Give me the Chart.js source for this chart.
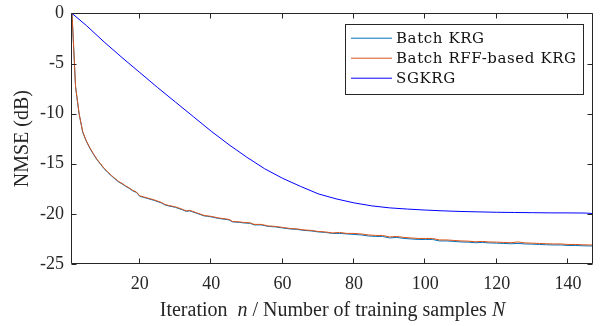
<!DOCTYPE html>
<html>
<head>
<meta charset="utf-8">
<script src="https://cdn.jsdelivr.net/npm/chart.js@4.4.1/dist/chart.umd.min.js"></script>
<style>
  html, body { margin: 0; padding: 0; background: #fff; }
</style>
</head>
<body>
<canvas id="c" width="605" height="326"></canvas>
<script>
// iteration index for the two batch curves
const batchN = [1,2,3,4,5,6,7,8,9,10,11,12,13,14,15,16,17,18,19,20,21,22,
  24,26,27,28,30,32,33,34,36,38,39,40,
  42,43,45,46,48,49,51,52,54,56,58,60,
  62,64,66,68,70,72,74,76,78,80,82,84,86,88,90,92,94,96,98,100,
  102,104,106,108,110,112,114,116,118,120,122,124,126,128,130,132,134,136,138,140,142,144,146,147];

const batchKRG = [0,-7.35,-10.05,-11.85,-12.75,-13.45,-14.05,-14.6,-15.05,-15.5,-15.85,-16.2,-16.5,-16.8,-17.0,-17.25,-17.45,-17.7,-17.85,-18.25,-18.35,-18.45,
  -18.65,-18.9,-19.1,-19.2,-19.35,-19.6,-19.75,-19.7,-19.95,-20.2,-20.25,-20.3,
  -20.45,-20.5,-20.6,-20.8,-20.85,-20.9,-20.95,-21.1,-21.1,-21.25,-21.3,-21.4,
  -21.5,-21.55,-21.65,-21.7,-21.8,-21.85,-21.95,-21.95,-22.0,-22.05,-22.1,-22.2,-22.25,-22.25,-22.4,-22.35,-22.45,-22.5,-22.55,-22.55,
  -22.55,-22.7,-22.7,-22.75,-22.8,-22.82,-22.88,-22.85,-22.9,-22.92,-22.95,-22.98,-22.95,-23.0,-23.02,-23.05,-23.08,-23.1,-23.1,-23.15,-23.15,-23.18,-23.2,-23.2];

const batchRFF = [0,-7.3,-10.0,-11.8,-12.7,-13.4,-14.0,-14.55,-15.0,-15.45,-15.8,-16.15,-16.45,-16.75,-16.95,-17.2,-17.4,-17.65,-17.8,-18.2,-18.3,-18.4,
  -18.6,-18.85,-19.05,-19.15,-19.3,-19.55,-19.7,-19.65,-19.9,-20.15,-20.2,-20.25,
  -20.4,-20.45,-20.55,-20.75,-20.8,-20.85,-20.9,-21.05,-21.05,-21.2,-21.25,-21.35,
  -21.45,-21.5,-21.6,-21.65,-21.75,-21.8,-21.9,-21.85,-21.95,-21.95,-22.0,-22.1,-22.15,-22.15,-22.3,-22.25,-22.35,-22.4,-22.45,-22.45,
  -22.45,-22.6,-22.6,-22.65,-22.7,-22.72,-22.78,-22.75,-22.8,-22.82,-22.85,-22.88,-22.8,-22.9,-22.92,-22.95,-22.98,-23.0,-23.0,-23.05,-23.05,-23.08,-23.1,-23.1];

// iteration index for SGKRG
const sgN = [1,5,10,15,20,25,30,35,40,45,50,55,60,65,70,75,80,85,90,95,100,105,110,115,120,125,130,135,140,145,147];
const sgkrg = [0,-1.2,-2.85,-4.4,-5.9,-7.4,-8.85,-10.3,-11.75,-13.1,-14.35,-15.5,-16.45,-17.25,-18.0,-18.5,-18.9,-19.2,-19.4,-19.52,-19.62,-19.7,-19.76,-19.8,-19.84,-19.86,-19.88,-19.9,-19.9,-19.92,-19.97];

const xTicks = [20,40,60,80,100,120,140];
const yTicks = [-25,-20,-15,-10,-5,0];

const names = ['Batch KRG', 'Batch RFF-based KRG', 'SGKRG'];
const colors = ['#0072BD', '#D95319', '#0000FF'];

const axisColor = '#262626';

function pts(xs, ys) {
  return xs.map((x, i) => ({ x: x, y: ys[i] }));
}

// box around the axes with inward ticks on all four sides
const framePlugin = {
  id: 'frame',
  afterDatasetsDraw(chart) {
    const ctx = chart.ctx;
    const a = chart.chartArea;
    const xs = chart.scales.x, ys = chart.scales.y;
    const L = Math.round(a.left) - 0.5, R = Math.round(a.right) - 0.5;
    const T = Math.round(a.top) + 0.5, B = Math.round(a.bottom) - 0.5;
    ctx.save();
    ctx.strokeStyle = axisColor;
    ctx.lineWidth = 1;
    ctx.beginPath();
    ctx.rect(L, T, R - L, B - T);
    xTicks.forEach(v => {
      const p = Math.round(xs.getPixelForValue(v)) - 0.5;
      ctx.moveTo(p, B); ctx.lineTo(p, B - 5);
      ctx.moveTo(p, T); ctx.lineTo(p, T + 5);
    });
    yTicks.forEach(v => {
      const p = Math.round(ys.getPixelForValue(v)) + 0.5;
      ctx.moveTo(L, p); ctx.lineTo(L + 5, p);
      ctx.moveTo(R, p); ctx.lineTo(R - 5, p);
    });
    ctx.stroke();
    ctx.restore();
  }
};

// x axis title with italic symbols
const xTitlePlugin = {
  id: 'xtitle',
  afterDraw(chart) {
    const ctx = chart.ctx;
    const a = chart.chartArea;
    const parts = [
      ['Iteration  ', ''],
      ['n', 'italic '],
      [' / Number of training samples ', ''],
      ['N', 'italic ']
    ];
    ctx.save();
    ctx.fillStyle = axisColor;
    ctx.textBaseline = 'alphabetic';
    let total = 0;
    parts.forEach(p => { ctx.font = p[1] + '20px "Liberation Serif"'; total += ctx.measureText(p[0]).width; });
    let x = (a.left + a.right) / 2 - total / 2;
    parts.forEach(p => {
      ctx.font = p[1] + '20px "Liberation Serif"';
      ctx.fillText(p[0], x, 316);
      x += ctx.measureText(p[0]).width;
    });
    ctx.restore();
  }
};

// legend box in the upper right of the axes
const legendPlugin = {
  id: 'boxlegend',
  afterDraw(chart) {
    const ctx = chart.ctx;
    const a = chart.chartArea;
    ctx.save();
    ctx.font = '15px "DejaVu Serif"';
    ctx.letterSpacing = '0.6px';
    let tw = 0;
    names.forEach(n => { tw = Math.max(tw, ctx.measureText(n).width); });
    const lineLen = 41;
    const w = Math.round(6 + lineLen + 4 + tw + 6);
    const h = 70;
    const right = Math.round(a.right) - 10;
    const top = Math.round(a.top) + 11;
    const left = right - w;
    ctx.fillStyle = '#fff';
    ctx.fillRect(left, top, w, h);
    ctx.strokeStyle = axisColor;
    ctx.lineWidth = 1;
    ctx.strokeRect(left + 0.5, top + 0.5, w, h);
    names.forEach((n, i) => {
      const y = top + 14 + i * 20;
      ctx.strokeStyle = colors[i];
      ctx.beginPath();
      ctx.moveTo(left + 6, y + 0.2);
      ctx.lineTo(left + 6 + lineLen, y + 0.2);
      ctx.stroke();
      ctx.fillStyle = '#111';
      ctx.textBaseline = 'middle';
      ctx.fillText(n, left + 6 + lineLen + 4, y + 1);
    });
    ctx.restore();
  }
};

const ctx = document.getElementById('c').getContext('2d');
new Chart(ctx, {
  type: 'line',
  data: {
    datasets: [
      { label: names[0], data: pts(batchN, batchKRG), borderColor: colors[0], order: 3 },
      { label: names[1], data: pts(batchN, batchRFF), borderColor: colors[1], order: 2 },
      { label: names[2], data: pts(sgN, sgkrg), borderColor: colors[2], order: 1 }
    ]
  },
  options: {
    responsive: false,
    animation: false,
    devicePixelRatio: 1,
    layout: { padding: { left: 0, top: 6, right: 12, bottom: 0 } },
    elements: {
      point: { radius: 0 },
      line: { borderWidth: 1, tension: 0, fill: false }
    },
    plugins: {
      legend: { display: false },
      tooltip: { enabled: false }
    },
    scales: {
      x: {
        type: 'linear',
        min: 1,
        max: 147,
        afterBuildTicks: s => { s.ticks = xTicks.map(v => ({ value: v })); },
        afterFit: s => { s.height = 62; },
        grid: { display: false, drawTicks: false },
        border: { display: false },
        ticks: {
          padding: 9,
          color: axisColor,
          maxRotation: 0,
          autoSkip: false,
          font: { family: 'Liberation Serif', size: 18 }
        }
      },
      y: {
        type: 'linear',
        min: -25,
        max: 0,
        afterBuildTicks: s => { s.ticks = yTicks.map(v => ({ value: v })); },
        afterFit: s => { s.width = 72; },
        grid: { display: false, drawTicks: false },
        border: { display: false },
        ticks: {
          padding: 8,
          color: axisColor,
          font: { family: 'Liberation Serif', size: 18, lineHeight: 0.6 }
        },
        title: {
          display: true,
          text: 'NMSE (dB)',
          color: axisColor,
          font: { family: 'Liberation Serif', size: 20 },
          padding: { top: 11, bottom: 0 }
        }
      }
    }
  },
  plugins: [framePlugin, xTitlePlugin, legendPlugin]
});
</script>
</body>
</html>
